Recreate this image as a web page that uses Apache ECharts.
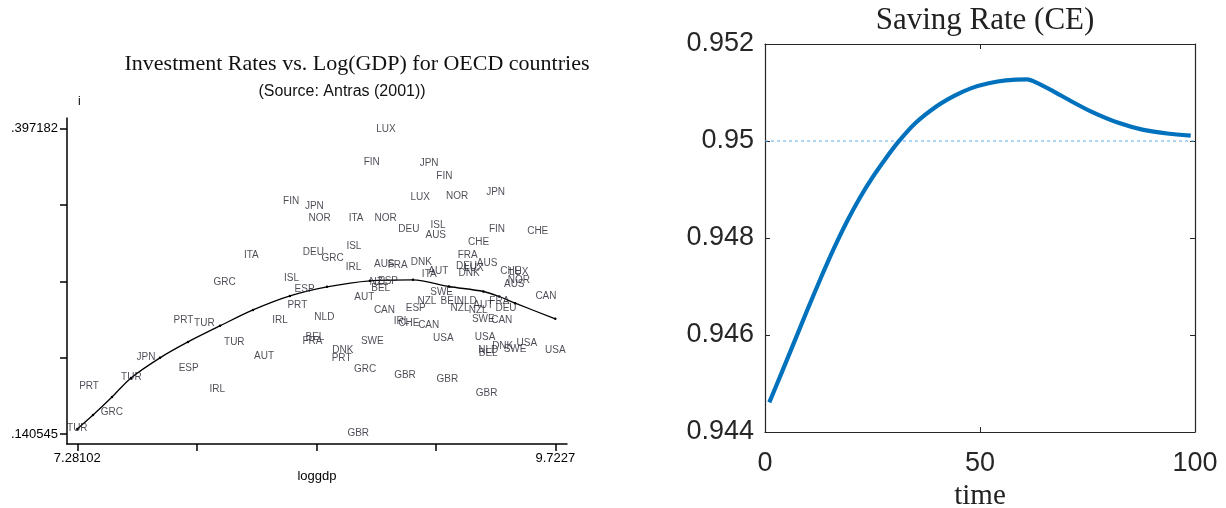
<!DOCTYPE html>
<html>
<head>
<meta charset="utf-8">
<script src="https://cdn.jsdelivr.net/npm/echarts@6/dist/echarts.min.js"></script>
<style>
  html, body { margin: 0; padding: 0; background: #fff; }
  #chart { width: 1226px; height: 508px; }
</style>
</head>
<body>
<div id="chart"></div>
<script>
// ---- Left panel: investment rate vs. log GDP, one label per country-period ----
const countries = [
  'LUX','FIN','JPN','FIN','FIN','JPN','NOR','LUX','NOR','JPN',
  'ITA','NOR','DEU','ISL','AUS','FIN','CHE','CHE','ISL','ITA',
  'DEU','GRC','IRL','AUS','FRA','DNK','ITA','AUT','FRA','DEU',
  'LUX','DNK','AUS','CHE','LUX','NOR','AUS','CAN','GRC','ISL',
  'ESP','NZL','ESP','BEL','AUT','PRT','NLD','IRL','CAN','ESP',
  'SWE','NZL','BEL','NLD','NZL','AUT','NZL','FRA','DEU','SWE',
  'CAN','IRL','CHE','CAN','PRT','TUR','TUR','AUT','JPN','ESP',
  'TUR','PRT','IRL','GRC','TUR','BEL','FRA','SWE','DNK','PRT',
  'GRC','GBR','GBR','USA','USA','DNK','USA','NLD','BEL','SWE',
  'USA','GBR','GBR'
];
const loggdp = [
  8.858, 8.785, 9.078, 9.156, 8.373, 8.492, 8.519, 9.033, 9.221, 9.418,
  8.705, 8.856, 8.975, 9.124, 9.112, 9.425, 9.633, 9.331, 8.694, 8.170,
  8.487, 8.585, 8.692, 8.849, 8.918, 9.038, 9.079, 9.125, 9.275, 9.269,
  9.307, 9.282, 9.374, 9.495, 9.536, 9.537, 9.513, 9.675, 8.034, 8.375,
  8.442, 8.822, 8.868, 8.831, 8.747, 8.405, 8.543, 8.316, 8.850, 9.010,
  9.142, 9.067, 9.185, 9.270, 9.236, 9.355, 9.329, 9.437, 9.471, 9.355,
  9.449, 8.937, 8.975, 9.076, 7.823, 7.930, 8.083, 8.235, 7.632, 7.850,
  7.557, 7.341, 7.996, 7.457, 7.28102, 8.495, 8.482, 8.788, 8.637, 8.631,
  8.751, 8.955, 8.716, 9.151, 9.364, 9.454, 9.577, 9.380, 9.380, 9.517,
  9.7227, 9.171, 9.372
];
const investRate = [
  0.3970, 0.3693, 0.3685, 0.3575, 0.3361, 0.3325, 0.3218, 0.3393, 0.3409, 0.3437,
  0.3218, 0.3218, 0.3126, 0.3165, 0.3081, 0.3126, 0.3115, 0.3016, 0.2988, 0.2910,
  0.2932, 0.2881, 0.2811, 0.2837, 0.2828, 0.2848, 0.2752, 0.2772, 0.2910, 0.2816,
  0.2803, 0.2761, 0.2843, 0.2772, 0.2767, 0.2696, 0.2666, 0.2567, 0.2679, 0.2716,
  0.2622, 0.2685, 0.2689, 0.2629, 0.2553, 0.2485, 0.2386, 0.2361, 0.2444, 0.2462,
  0.2597, 0.2525, 0.2525, 0.2519, 0.2464, 0.2486, 0.2444, 0.2525, 0.2464, 0.2371,
  0.2365, 0.2357, 0.2336, 0.2317, 0.2359, 0.2337, 0.2174, 0.2062, 0.2048, 0.1955,
  0.1885, 0.1807, 0.1778, 0.1588, 0.1453, 0.2216, 0.2188, 0.2188, 0.2111, 0.2041,
  0.1953, 0.1896, 0.1410, 0.2209, 0.2216, 0.2146, 0.2172, 0.2108, 0.2085, 0.2119,
  0.2106, 0.1863, 0.1751
];

// Quadratic fit of the investment rate on log GDP
const fitLoggdp = [7.2810, 7.3612, 7.4583, 7.5553, 7.7035, 7.8465, 8.0099, 8.1785, 8.3675,
                   8.5565, 8.7761, 8.9958, 9.1801, 9.3552, 9.4364, 9.5176, 9.7227];
const fitRate   = [0.1448, 0.1565, 0.1717, 0.1877, 0.2046, 0.2180, 0.2315, 0.2449, 0.2567,
                   0.2643, 0.2694, 0.2702, 0.2646, 0.2604, 0.2562, 0.2506, 0.2374];

// Axis ticks (five evenly spaced ticks; only the extremes are labelled)
const xTicks = [7.28102, 7.89144, 8.50186, 9.11228, 9.7227];
const xTickLabels = ['7.28102', '', '', '', '9.7227'];
const yTicks = [0.140545, 0.204704, 0.268864, 0.333023, 0.397182];
const yTickLabels = ['.140545', '', '', '', '.397182'];

// ---- Right panel: saving rate path ----
const time = [1, 4, 7, 10, 13, 16, 19, 22, 25, 28, 31, 35, 40, 44, 48, 52, 56, 61, 63, 67, 71, 76, 82, 88, 94, 99];
const savingRate = [0.94461, 0.94525, 0.94590, 0.94655, 0.94718, 0.94778, 0.94833, 0.94882, 0.94925,
                    0.94963, 0.94998, 0.95037, 0.95072, 0.95093, 0.95109, 0.95119, 0.95125, 0.95127,
                    0.95121, 0.95103, 0.95083, 0.95060, 0.95038, 0.95023, 0.95015, 0.95011];
// Steady-state reference level, drawn across the whole time range
const steadyStateRate = 0.95;
const timeRange = [0, 100];

function labelFor(ticks, labels) {
  return function (v) {
    let best = 0;
    for (let i = 1; i < ticks.length; i++) {
      if (Math.abs(ticks[i] - v) < Math.abs(ticks[best] - v)) best = i;
    }
    return labels[best];
  };
}

const SANS = '"Liberation Sans", Arial, sans-serif';
const SERIF = '"Liberation Serif", "Times New Roman", serif';

const scatterData = countries.map((c, i) => [loggdp[i], investRate[i], c]);
const fitData = fitLoggdp.map((x, i) => [x, fitRate[i]]);
const savingData = time.map((t, i) => [t, savingRate[i]]);
const steadyData = timeRange.map(t => [t, steadyStateRate]);

const chart = echarts.init(document.getElementById('chart'), null, { renderer: 'canvas' });

const rightAxisCommon = {
  gridIndex: 1,
  axisLine: { show: true, onZero: false, lineStyle: { color: '#262626', width: 1.2 } },
  axisTick: { show: true, inside: true, length: 5, lineStyle: { color: '#262626', width: 1 } },
  splitLine: { show: false }
};

chart.setOption({
  animation: false,
  backgroundColor: '#ffffff',
  title: [
    {
      text: 'Investment Rates vs. Log(GDP) for OECD countries',
      left: 352, top: 48, textAlign: 'center',
      textStyle: { fontFamily: SERIF, fontSize: 22, fontWeight: 'normal', color: '#111' }
    },
    {
      text: '(Source: Antras (2001))',
      left: 337, top: 79, textAlign: 'center',
      textStyle: { fontFamily: SANS, fontSize: 16, fontWeight: 'normal', color: '#111' }
    },
    {
      text: 'Saving Rate (CE)',
      left: 980, top: 0, textAlign: 'center',
      textStyle: { fontFamily: SERIF, fontSize: 31, fontWeight: 'normal', color: '#222' }
    }
  ],
  grid: [
    { left: 67, top: 118, width: 500, height: 326, outerBoundsMode: 'none', containLabel: false },
    { left: 765, top: 44, width: 430, height: 388, outerBoundsMode: 'none', containLabel: false }
  ],
  xAxis: [
    {
      gridIndex: 0, type: 'value', min: 7.2284, max: 9.7825,
      axisLine: { show: true, onZero: false, lineStyle: { color: '#000', width: 1.5 } },
      axisTick: { show: true, customValues: xTicks, length: 7, lineStyle: { color: '#000', width: 1.5 } },
      axisLabel: {
        customValues: [xTicks[0], xTicks[4]], formatter: labelFor(xTicks, xTickLabels),
        color: '#000', fontFamily: SANS, fontSize: 13, margin: 8
      },
      splitLine: { show: false },
      name: 'loggdp', nameLocation: 'middle', nameGap: 22,
      nameTextStyle: { fontFamily: SANS, fontSize: 13, color: '#000' }
    },
    Object.assign({}, rightAxisCommon, {
      type: 'value', min: 0, max: 100, interval: 50, position: 'bottom',
      axisLabel: { color: '#262626', fontFamily: SANS, fontSize: 27, margin: 18 },
      name: 'time', nameLocation: 'middle', nameGap: 48,
      nameTextStyle: { fontFamily: SERIF, fontSize: 29, color: '#222' }
    }),
    Object.assign({}, rightAxisCommon, {
      type: 'value', min: 0, max: 100, interval: 50, position: 'top',
      axisLabel: { show: false }
    })
  ],
  yAxis: [
    {
      gridIndex: 0, type: 'value', min: 0.13212, max: 0.40636,
      axisLine: { show: true, onZero: false, lineStyle: { color: '#000', width: 1.5 } },
      axisTick: { show: true, customValues: yTicks, length: 7, lineStyle: { color: '#000', width: 1.5 } },
      axisLabel: {
        customValues: [yTicks[0], yTicks[4]], formatter: labelFor(yTicks, yTickLabels),
        color: '#000', fontFamily: SANS, fontSize: 13, margin: 9
      },
      splitLine: { show: false },
      name: 'i', nameLocation: 'end', nameGap: 10,
      nameTextStyle: { fontFamily: SANS, fontSize: 12, color: '#000', align: 'left', padding: [0, 0, 0, 11] }
    },
    Object.assign({}, rightAxisCommon, {
      type: 'value', min: 0.944, max: 0.952, interval: 0.002, position: 'left',
      axisLabel: { color: '#262626', fontFamily: SANS, fontSize: 27, margin: 11 }
    }),
    Object.assign({}, rightAxisCommon, {
      type: 'value', min: 0.944, max: 0.952, interval: 0.002, position: 'right',
      axisLabel: { show: false }
    })
  ],
  series: [
    {
      type: 'scatter', xAxisIndex: 0, yAxisIndex: 0,
      data: scatterData,
      symbolSize: 1,
      itemStyle: { color: 'rgba(0,0,0,0)' },
      label: {
        show: true, position: 'inside',
        formatter: p => p.data[2],
        fontFamily: SANS, fontSize: 10, color: '#1e1e2a'
      },
      z: 3
    },
    {
      type: 'line', xAxisIndex: 0, yAxisIndex: 0,
      data: fitData,
      smooth: 0.3,
      symbol: 'circle', symbolSize: 2.5, showSymbol: true,
      itemStyle: { color: '#000' },
      lineStyle: { color: '#000', width: 1.3 },
      z: 2
    },
    {
      type: 'line', xAxisIndex: 1, yAxisIndex: 1,
      data: steadyData,
      showSymbol: false,
      lineStyle: { color: '#5aaeea', width: 1, type: [3, 3] },
      z: 2
    },
    {
      type: 'line', xAxisIndex: 1, yAxisIndex: 1,
      data: savingData,
      smooth: 0.2,
      showSymbol: false,
      lineStyle: { color: '#0072BD', width: 4.2 },
      z: 3
    }
  ]
});
</script>
</body>
</html>
